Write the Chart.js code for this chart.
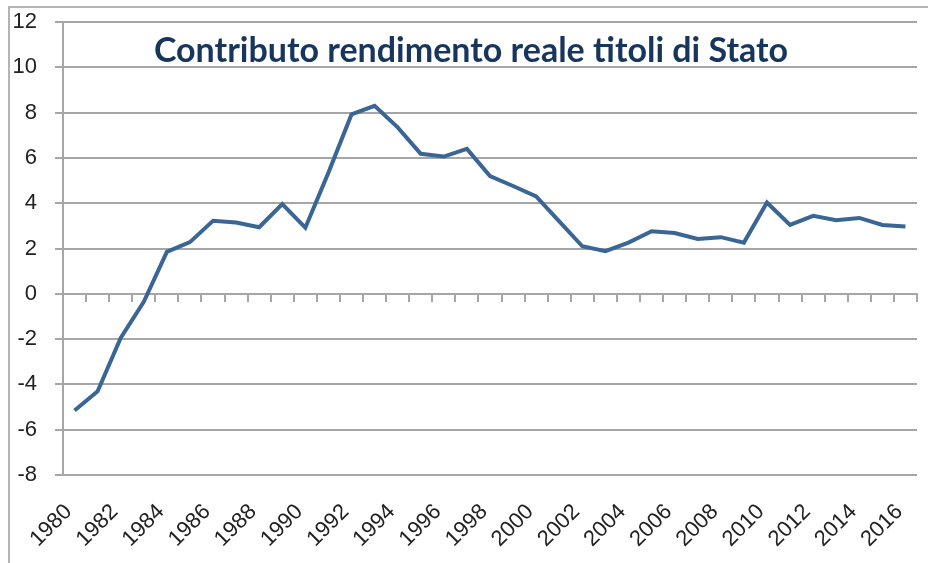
<!DOCTYPE html>
<html lang="it">
<head>
  <meta charset="UTF-8" />
  <title>Contributo rendimento reale titoli di Stato</title>
  <script src="https://cdn.jsdelivr.net/npm/chart.js"></script>
  <style>
    body { margin: 0; background: #fff; overflow: hidden; }
    .frame {
      position: absolute;
      left: 8px;
      top: 6px;
      width: 918px;
      height: 555px;
      border-left: 2px solid #b4b4b4;
      border-top: 2px solid #b4b4b4;
    }
  </style>
</head>
<body>
  <div class="frame">
    <canvas id="grafico"></canvas>
  </div>

  <script>
    // dati
    const anni = [
      '1980','1981','1982','1983','1984','1985','1986','1987','1988','1989',
      '1990','1991','1992','1993','1994','1995','1996','1997','1998','1999',
      '2000','2001','2002','2003','2004','2005','2006','2007','2008','2009',
      '2010','2011','2012','2013','2014','2015','2016'
    ];
    const rendimento = [
      -5.15, -4.3, -1.95, -0.35, 1.85, 2.28, 3.22, 3.15, 2.94, 3.96,
      2.92, 5.35, 7.92, 8.3, 7.35, 6.18, 6.06, 6.4, 5.2, 4.76,
      4.3, 3.2, 2.1, 1.88, 2.26, 2.76, 2.68, 2.42, 2.5, 2.26,
      4.03, 3.04, 3.44, 3.25, 3.35, 3.04, 2.97
    ];
    const titolo = 'Contributo rendimento reale titoli di Stato';

    const grigio = '#a6a6a6';

    // titolo dentro l'area del grafico
    const titoloPlugin = {
      id: 'titoloInterno',
      afterDraw(chart) {
        const { ctx, chartArea } = chart;
        ctx.save();
        ctx.font = 'bold 34px Lato, "Open Sans", sans-serif';
        ctx.fillStyle = '#17365d';
        ctx.textAlign = 'center';
        ctx.textBaseline = 'alphabetic';
        ctx.fillText(titolo, chartArea.left + 408, chartArea.top + 40);
        ctx.restore();
      }
    };

    new Chart(document.getElementById('grafico'), {
      type: 'line',
      data: {
        labels: anni,
        datasets: [{
          label: titolo,
          data: rendimento,
          borderColor: '#3a6696',
          borderWidth: 4,
          pointRadius: 0,
          tension: 0,
          fill: false
        }]
      },
      options: {
        responsive: true,
        maintainAspectRatio: false,
        animation: false,
        layout: { padding: { top: 14, right: 11, left: 0, bottom: 0 } },
        plugins: {
          legend: { display: false },
          tooltip: { enabled: false }
        },
        scales: {
          x: {
            type: 'category',
            offset: true,
            grid: { display: false, drawTicks: false },
            border: { display: false },
            ticks: {
              autoSkip: false,
              maxRotation: 45,
              minRotation: 45,
              padding: 24,
              labelOffset: -6,
              color: '#222',
              font: { family: 'Liberation Sans, Arial, sans-serif', size: 22 },
              callback: (val, i) => (i % 2 === 0 ? anni[i] : '')
            },
            afterFit(scale) {
              scale.height = 88;
              scale.paddingLeft = 0;
              scale.paddingRight = 0;
            }
          },
          asse0: {
            type: 'category',
            axis: 'x',
            position: { y: 0 },
            offset: true,
            grid: {
              display: true,
              drawOnChartArea: false,
              drawTicks: true,
              tickLength: 7,
              offset: true,
              color: grigio,
              lineWidth: 2
            },
            border: { display: true, color: grigio, width: 2 },
            ticks: { display: false },
            afterFit(scale) {
              scale.height = 0;
              scale.paddingLeft = 0;
              scale.paddingRight = 0;
            }
          },
          y: {
            min: -8,
            max: 12,
            ticks: {
              stepSize: 2,
              padding: 18,
              color: '#222',
              font: { family: 'Liberation Sans, Arial, sans-serif', size: 22 }
            },
            grid: { color: grigio, lineWidth: 2, tickLength: 8 },
            border: { display: true, color: grigio, width: 2 },
            afterFit(scale) {
              scale.width = 53;
              scale.paddingTop = 0;
              scale.paddingBottom = 0;
            }
          }
        }
      },
      plugins: [titoloPlugin]
    });
  </script>
</body>
</html>
